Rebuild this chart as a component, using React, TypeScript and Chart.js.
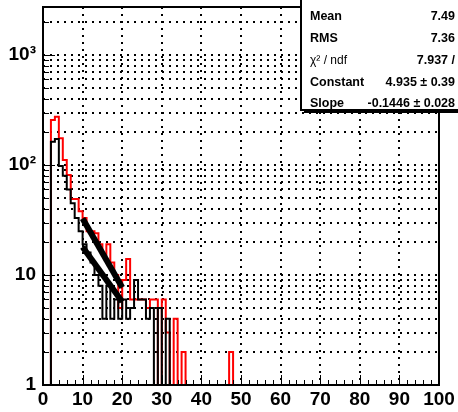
import React, { useEffect, useRef } from "react";
import { Chart, registerables } from "chart.js";

Chart.register(...registerables);

// ---- axis ranges ----
const X_MIN = 0;
const X_MAX = 100;
const Y_MIN = 1;
const Y_MAX = 2730;
const BIN_WIDTH = 1;

// ---- histogram contents (bins of width 1 starting at 0) ----
const redCounts = [
  0, 0, 256, 274, 175, 111, 81, 49, 49, 38,
  33, 25, 25, 24, 19, 15, 19, 13, 10, 5,
  9, 14, 6, 6, 6, 6, 5, 6, 6, 0,
  6, 3, 0, 4, 0, 2, 0, 0, 0, 0,
  0, 0, 0, 0, 0, 0, 0, 2, 0, 0,
];
const blackCounts = [
  0, 0, 163, 172, 98, 80, 60, 45, 33, 25,
  19, 16, 13, 10, 8, 4, 8, 4, 6, 4,
  6, 4, 5, 9, 6, 6, 4, 5, 0, 5,
  0, 4, 0, 0, 0, 0, 0, 0, 0, 0,
  0, 0, 0, 0, 0, 0, 0, 0, 0, 0,
];

// ---- exponential fits (end points) ----
const fitX = [10, 20];
const fitUpper = [32.7, 7.7];
const fitLower = [18.0, 5.7];

// ---- ticks ----
const xLabelTicks = [0, 10, 20, 30, 40, 50, 60, 70, 80, 90, 100];
const xMinorStep = 2;
const yDecades = [1, 10, 100, 1000];
const yMultipliers = [1, 2, 3, 4, 5, 6, 7, 8, 9];
const yLabels: Record<number, string> = { 1: "1", 10: "10", 100: "10²", 1000: "10³" };

// ---- stats box ----
const statsLabels = ["Mean", "RMS", "χ² / ndf", "Constant", "Slope"];
const statsValues = ["7.49", "7.36", "7.937 /", "4.935 ± 0.39", "-0.1446 ± 0.028"];

const xMinorTicks: number[] = [];
for (let v = X_MIN; v <= X_MAX; v += xMinorStep) xMinorTicks.push(v);
const yTickValues = yDecades
  .flatMap((d) => yMultipliers.map((m) => m * d))
  .filter((v) => v <= Y_MAX);

function outline(counts: number[]) {
  const pts = counts.map((c, i) => ({ x: X_MIN + i * BIN_WIDTH, y: c > 0 ? c : Y_MIN }));
  pts.push({ x: X_MIN + counts.length * BIN_WIDTH, y: Y_MIN });
  pts.push({ x: X_MAX, y: Y_MIN });
  return pts;
}

const FONT = "'Liberation Sans', Arial, Helvetica, sans-serif";

const bgPlugin = {
  id: "bg",
  beforeDraw(chart: any) {
    const { ctx } = chart;
    ctx.save();
    ctx.fillStyle = "#fff";
    ctx.fillRect(0, 0, chart.width, chart.height);
    ctx.restore();
  },
};

const framePlugin = {
  id: "frame",
  afterDatasetsDraw(chart: any) {
    const { ctx, chartArea: a, scales } = chart;
    const xs = scales.x;
    const ys = scales.y;
    ctx.save();
    ctx.strokeStyle = "#000";
    ctx.lineWidth = 1;
    for (const v of xMinorTicks) {
      const px = Math.round(xs.getPixelForValue(v)) + 0.5;
      const len = xLabelTicks.includes(v) ? 10 : 5;
      ctx.beginPath();
      ctx.moveTo(px, a.bottom);
      ctx.lineTo(px, a.bottom - len);
      ctx.stroke();
    }
    for (const v of yTickValues) {
      const py = Math.round(ys.getPixelForValue(v)) + 0.5;
      const len = yDecades.includes(v) ? 12 : 6;
      ctx.beginPath();
      ctx.moveTo(a.left, py);
      ctx.lineTo(a.left + len, py);
      ctx.stroke();
    }
    ctx.lineWidth = 2;
    ctx.strokeRect(a.left, a.top, a.right - a.left, a.bottom - a.top);
    ctx.restore();
  },
};

const statsPlugin = {
  id: "stats",
  afterDraw(chart: any) {
    const { ctx } = chart;
    const bx = 301;
    const bb = 110;
    ctx.save();
    ctx.fillStyle = "#000";
    ctx.fillRect(bx + 3, bb, 300, 3);
    ctx.fillStyle = "#fff";
    ctx.fillRect(bx, -2, 300, bb + 2);
    ctx.strokeStyle = "#000";
    ctx.lineWidth = 2;
    ctx.strokeRect(bx, -2, 300, bb + 2);
    ctx.textBaseline = "middle";
    ctx.fillStyle = "#000";
    const rows = [17, 39, 61, 83, 104];
    statsLabels.forEach((lab, i) => {
      const isChi = lab.startsWith("χ");
      ctx.font = `${isChi ? "normal" : "bold"} ${isChi ? 12 : 12.5}px ${FONT}`;
      ctx.textAlign = "left";
      ctx.fillText(lab, 310, rows[i]);
      ctx.font = `bold 12.5px ${FONT}`;
      ctx.textAlign = "right";
      ctx.fillText(statsValues[i], 455, rows[i]);
    });
    ctx.restore();
  },
};

export default function App() {
  const ref = useRef<HTMLCanvasElement | null>(null);

  useEffect(() => {
    if (!ref.current) return;
    const tickFont = { family: FONT, weight: "bold" as const, size: 19 };
    const chart = new Chart(ref.current, {
      type: "line",
      data: {
        datasets: [
          {
            label: "fit upper",
            data: fitX.map((x, i) => ({ x, y: fitUpper[i] })),
            borderColor: "#000",
            borderWidth: 6,
            pointRadius: 0,
            order: 0,
          },
          {
            label: "fit lower",
            data: fitX.map((x, i) => ({ x, y: fitLower[i] })),
            borderColor: "#000",
            borderWidth: 6,
            pointRadius: 0,
            order: 0,
          },
          {
            label: "black",
            data: outline(blackCounts),
            borderColor: "#000",
            borderWidth: 2,
            pointRadius: 0,
            stepped: "before",
            order: 1,
          },
          {
            label: "red",
            data: outline(redCounts),
            borderColor: "#ff0000",
            borderWidth: 2,
            pointRadius: 0,
            stepped: "before",
            order: 2,
          },
        ],
      },
      options: {
        responsive: false,
        animation: false,
        events: [],
        layout: { padding: { left: 0, top: 7, right: 19, bottom: 0 } },
        plugins: { legend: { display: false }, tooltip: { enabled: false } },
        elements: { line: { tension: 0, fill: false, borderJoinStyle: "miter", borderCapStyle: "butt" } },
        scales: {
          x: {
            type: "linear",
            min: X_MIN,
            max: X_MAX,
            afterBuildTicks: (s: any) => {
              s.ticks = xLabelTicks.map((v) => ({ value: v }));
            },
            afterFit: (s: any) => {
              s.height = 27;
              s.paddingLeft = 0;
              s.paddingRight = 0;
            },
            grid: { color: "#000", lineWidth: 2, drawTicks: false },
            border: { display: false, dash: [2, 5] },
            ticks: {
              color: "#000",
              padding: 3,
              maxRotation: 0,
              autoSkip: false,
              font: tickFont,
              callback: (v: any) => String(v),
            },
          },
          y: {
            type: "logarithmic",
            min: Y_MIN,
            max: Y_MAX,
            afterBuildTicks: (s: any) => {
              s.ticks = yTickValues.map((v) => ({ value: v }));
            },
            afterFit: (s: any) => {
              s.width = 43;
              s.paddingTop = 0;
              s.paddingBottom = 0;
            },
            grid: { color: "#000", lineWidth: 2, drawTicks: false },
            border: { display: false, dash: [2, 5] },
            ticks: {
              color: "#000",
              padding: 7,
              autoSkip: false,
              font: tickFont,
              callback: (v: any) => yLabels[Number(v)] ?? "",
            },
          },
        },
      },
      plugins: [bgPlugin, framePlugin, statsPlugin],
    } as any);
    return () => chart.destroy();
  }, []);

  return (
    <div style={{ position: "absolute", left: 0, top: 0, width: 458, height: 412 }}>
      <canvas ref={ref} width={458} height={412} style={{ display: "block" }} />
    </div>
  );
}
